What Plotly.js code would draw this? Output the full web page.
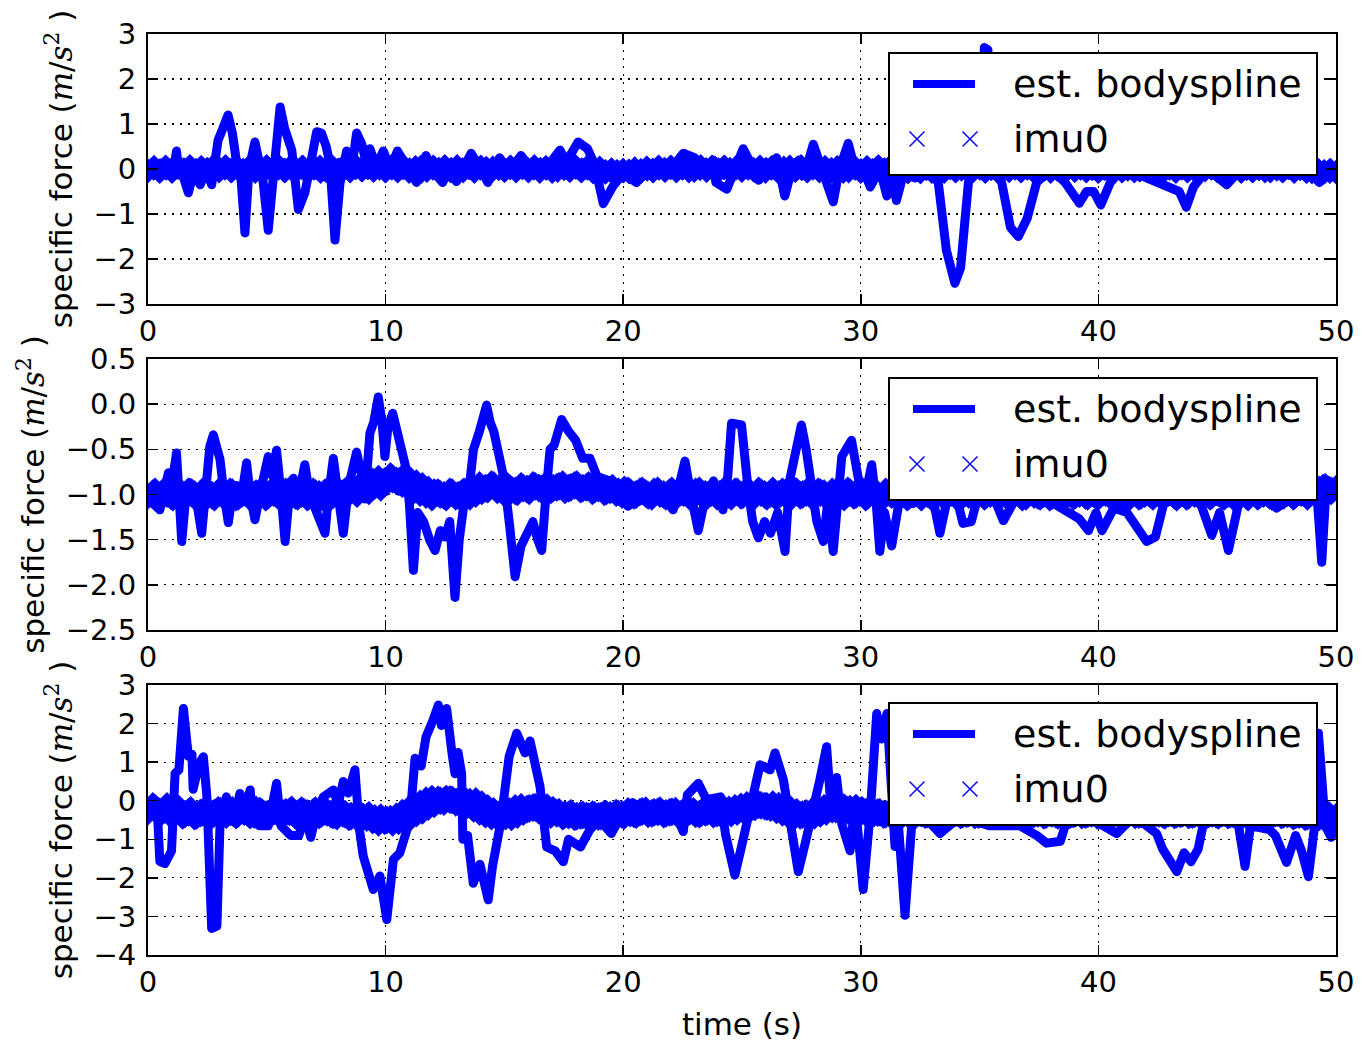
<!DOCTYPE html>
<html>
<head>
<meta charset="utf-8">
<script src="https://cdn.plot.ly/plotly-3.0.1.min.js"></script>
<style>
  html, body { margin: 0; padding: 0; background: #fff; }
  #chart { width: 1363px; height: 1042px; }
  #chart .scatterlayer .js-line { stroke-linejoin: round; stroke-linecap: round; }
</style>
</head>
<body>
<div id="chart"></div>
<script>
// ---------------- DATA ----------------
// est. bodyspline, panel 1 (x component)
const splineT1 = [0,0.3,0.6,0.9,1.1,1.2,1.3,1.5,1.7,1.9,2.2,2.45,2.68,2.8,2.95,3.15,3.37,3.55,3.74,3.9,4.08,4.25,4.5,4.7,4.85,5.06,5.25,5.4,5.56,5.75,6.05,6.33,6.6,6.8,7.1,7.3,7.5,7.66,7.87,8.08,8.36,8.6,8.78,9.0,9.2,9.34,9.6,9.9,10.2,10.5,10.9,11.3,11.7,12.0,12.4,12.7,12.98,13.3,13.6,14.0,14.3,14.8,15.2,15.7,16.2,16.8,17.34,17.6,17.9,18.1,18.5,18.8,19.16,19.57,20.0,20.56,21.0,21.5,22.0,22.53,23.0,23.4,23.8,23.9,24.36,24.7,25.05,25.4,25.7,26.1,26.46,26.8,27.1,27.4,27.7,28.0,28.4,28.84,29.1,29.47,29.8,30.1,30.4,30.8,31.1,31.3,31.5,31.8,32.3,32.8,33.26,33.6,33.96,34.2,34.53,34.8,35.1,35.2,35.35,35.5,35.93,36.3,36.63,37.0,37.4,38.0,38.6,39.2,39.5,39.8,40.1,40.5,41.0,41.6,42.4,43.0,43.4,43.7,44.0,44.6,45.4,46.0,46.8,47.5,48.2,48.8,49.3,49.6,50];
const splineV1 = [0,-0.1,0.05,-0.1,0.05,0.4,-0.05,-0.2,-0.53,-0.1,-0.35,0,-0.35,0.0,0.64,0.9,1.2,0.8,0.1,-0.1,-1.42,0.0,0.6,0.1,-0.3,-1.36,-0.2,0.7,1.38,0.9,0.42,-0.9,-0.53,0.0,0.83,0.8,0.5,0.1,-1.58,-0.32,0.4,0.1,0.8,0.55,0.1,0.45,0.05,0.4,0.0,0.4,0.0,-0.3,0.3,-0.05,-0.3,0.0,-0.28,0.05,0.35,0.0,-0.3,0.25,-0.05,0.3,-0.05,0.05,0.42,0.15,0.4,0.6,0.45,0.1,-0.77,-0.38,-0.1,-0.3,0.0,0.05,0.0,0.35,0.25,0.0,0.2,-0.3,-0.45,0.0,0.45,0.1,-0.25,0.0,0.25,-0.6,0.0,0.2,0.0,0.55,0.0,-0.73,0.0,0.57,-0.1,0.0,-0.4,0.0,-0.6,-0.1,-0.7,-0.1,-0.2,0.0,-0.3,-1.8,-2.54,-2.2,-0.3,0.0,0.3,2.7,2.65,0.1,-0.3,-1.3,-1.5,-1.1,-0.3,0.0,-0.3,-0.76,-0.5,-0.5,-0.8,-0.3,0.0,-0.1,-0.3,-0.45,-0.5,-0.85,-0.4,0.0,-0.35,0.0,-0.1,0.0,-0.1,0.0,-0.3,0.05,-0.1];

// est. bodyspline, panel 2 (y component)
const splineT2 = [0,0.5,0.86,1.0,1.2,1.3,1.42,1.6,1.76,2.0,2.26,2.45,2.6,2.75,3.03,3.2,3.38,3.55,3.73,3.95,4.15,4.3,4.5,4.75,5.06,5.25,5.41,5.6,5.77,5.95,6.12,6.35,6.6,6.8,6.95,7.2,7.45,7.6,7.8,8.0,8.22,8.45,8.78,9.0,9.13,9.34,9.5,9.69,9.85,9.97,10.1,10.3,10.5,10.7,10.85,11.0,11.17,11.35,11.6,11.85,12.08,12.3,12.5,12.7,12.92,13.1,13.3,13.55,13.7,13.95,14.25,14.4,14.55,14.8,15.0,15.2,15.45,15.7,15.9,16.2,16.4,16.57,16.75,16.92,17.1,17.41,17.7,18.0,18.3,18.6,18.9,19.44,19.8,20.2,20.8,21.5,22.1,22.35,22.6,22.85,23.16,23.4,23.8,24.0,24.2,24.4,24.56,24.98,25.1,25.26,25.45,25.69,25.95,26.2,26.5,26.81,27.0,27.25,27.5,27.7,27.9,28.15,28.42,28.6,28.84,29.0,29.2,29.61,29.8,29.95,30.2,30.46,30.65,30.8,31.0,31.3,31.6,32.2,32.6,33.0,33.33,33.6,34.0,34.3,34.65,34.85,35.4,36.0,36.4,37.0,37.8,38.66,39.2,39.58,39.9,40.15,40.65,41.2,41.6,42.03,42.4,42.75,43.5,44.3,44.77,45.1,45.47,45.9,46.7,47.5,48.3,49.2,49.4,49.6,50];
const splineV2 = [-1.05,-1.17,-0.76,-0.9,-0.54,-0.9,-1.52,-1.0,-0.87,-1.0,-1.43,-0.9,-0.47,-0.34,-0.61,-1.0,-1.31,-1.0,-0.9,-1.0,-0.65,-1.0,-1.28,-0.95,-0.58,-0.8,-0.51,-1.0,-1.52,-1.0,-0.82,-1.0,-0.67,-1.0,-1.1,-1.2,-1.43,-1.0,-0.6,-1.0,-1.43,-0.9,-0.53,-0.8,-1.05,-0.32,-0.2,0.08,-0.2,-0.58,-0.25,-0.1,-0.3,-0.5,-0.7,-1.1,-1.84,-1.2,-1.3,-1.5,-1.62,-1.4,-1.47,-1.3,-2.14,-1.5,-1.1,-0.85,-0.5,-0.3,-0.01,-0.2,-0.3,-0.6,-0.85,-1.3,-1.91,-1.57,-1.45,-1.3,-1.5,-1.62,-1.0,-0.5,-0.45,-0.17,-0.3,-0.4,-0.6,-0.6,-0.8,-0.85,-1.0,-1.13,-1.0,-0.95,-1.17,-0.9,-0.63,-1.0,-1.4,-1.1,-0.85,-1.0,-1.17,-0.8,-0.21,-0.23,-0.6,-0.95,-1.3,-1.48,-1.3,-1.43,-1.2,-1.63,-0.85,-0.5,-0.23,-0.5,-0.85,-1.3,-1.52,-1.1,-1.63,-1.0,-0.58,-0.4,-0.7,-0.9,-1.0,-0.67,-1.1,-1.63,-1.2,-1.57,-1.1,-1.1,-0.9,-1.0,-1.43,-1.1,-1.0,-1.32,-1.3,-1.1,-0.9,-1.29,-1.1,-1.0,-1.05,-1.17,-1.27,-1.4,-1.2,-1.4,-1.15,-1.2,-1.35,-1.52,-1.47,-1.1,-1.0,-1.1,-1.45,-1.2,-1.62,-1.1,-1.0,-1.15,-1.0,-1.0,-1.75,-0.85,-0.9];

// est. bodyspline, panel 3 (z component)
const splineT3 = [0,0.4,0.5,0.71,0.99,1.05,1.14,1.3,1.49,1.7,1.85,1.9,2.15,2.33,2.48,2.68,2.9,3.03,3.3,3.6,3.87,4.1,4.3,4.4,4.7,5.06,5.2,5.41,5.6,6.0,6.35,6.6,6.85,7.1,7.38,7.8,8.0,8.22,8.43,8.71,8.9,9.06,9.48,9.76,10.05,10.33,10.6,10.9,11.1,11.24,11.5,11.7,12.0,12.22,12.35,12.57,12.78,12.92,13.05,13.2,13.25,13.45,13.69,13.97,14.32,14.5,14.85,15.06,15.2,15.52,15.87,16.08,16.36,16.5,16.78,17.13,17.48,17.7,18.2,18.6,19.0,19.5,19.9,20.4,21.0,21.6,22.2,22.53,22.7,23.16,23.5,24.1,24.3,24.7,25.05,25.5,25.76,26.18,26.39,26.74,27.0,27.37,27.7,28.07,28.28,28.56,28.77,28.98,29.2,29.55,29.76,30.1,30.4,30.67,30.88,31.1,31.44,31.6,31.86,32.14,32.5,33.33,34.2,35.4,36.7,37.4,37.82,38.4,38.6,39.5,40.77,41.5,42.45,42.7,43.3,43.6,43.9,44.2,44.4,45.2,45.9,46.17,46.4,47.2,47.45,47.92,48.3,48.55,48.84,49.1,49.26,49.55,49.8,50];
const splineV3 = [-0.15,-0.35,-1.58,-1.63,-1.3,0.0,0.71,0.8,2.39,1.15,1.2,0.3,0.95,1.14,0.1,-3.31,-3.25,-0.65,0.1,-0.55,0.19,-0.2,0.28,-0.55,-0.65,-0.65,-0.2,0.45,-0.65,-0.9,-0.9,-0.4,-0.95,-0.3,0.1,0.28,-0.1,0.5,0.2,0.8,-0.75,-1.44,-2.3,-1.95,-3.08,-1.52,-1.35,-0.75,0.1,1.1,0.9,1.65,2.09,2.48,1.95,2.39,1.3,0.7,1.25,0.7,-1.0,-0.9,-2.14,-1.65,-2.57,-1.7,-0.55,0.55,1.15,1.75,1.24,1.55,0.55,0.37,-1.2,-1.3,-1.58,-1.0,-1.2,-0.75,-0.5,-0.85,-0.4,-0.05,-0.3,-0.15,-0.35,-0.8,0.15,0.45,0.03,0.1,-0.85,-1.93,-1.0,0.3,0.93,0.8,1.24,0.55,-0.55,-1.84,-1.0,-0.15,0.55,1.4,-0.4,0.6,-0.6,-1.3,0.0,-2.3,-0.3,2.26,1.6,2.26,-1.19,-0.75,-2.97,-0.65,-0.3,-0.85,-0.4,-0.65,-0.65,-0.9,-1.1,-1.05,-0.65,-0.4,-0.85,-0.4,-0.85,-1.25,-1.84,-1.35,-1.58,-1.25,-0.65,-0.4,-0.65,-1.7,-0.65,-0.75,-0.9,-1.6,-0.9,-1.3,-1.97,-0.65,1.75,-0.65,-0.95,-0.6];

// imu0 samples, one every 0.25 s from 0 to 50 s
const imuStart = 0;
const imuStep = 0.25;
const imuV1 = [
0.03,-0.04,0.02,-0.05,0.04,-0.02,0.05,-0.03,0.01,-0.06,0.03,-0.01,0.05,-0.04,0.02,-0.03,0.04,-0.05,0.01,0.03,
-0.02,0.05,-0.04,0.02,-0.03,0.04,-0.01,0.03,-0.05,0.02,0.04,-0.03,0.01,-0.04,0.05,-0.02,0.03,-0.01,0.04,-0.03,
0.02,-0.04,0.05,-0.02,0.03,-0.05,0.01,0.04,-0.03,0.02,-0.01,0.05,-0.04,0.03,-0.02,0.04,-0.05,0.02,0.01,-0.03,
0.04,-0.02,0.03,-0.04,0.05,-0.01,0.02,-0.05,0.03,0.01,-0.03,0.04,-0.02,0.05,-0.04,0.02,-0.06,-0.02,-0.07,-0.04,
-0.06,-0.03,-0.05,0.0,-0.04,0.02,-0.03,0.04,-0.01,0.03,-0.04,0.02,0.05,-0.03,0.01,-0.02,0.04,-0.05,0.03,-0.01,
0.02,-0.03,0.04,-0.01,0.03,-0.05,0.02,0.04,-0.02,0.01,-0.03,0.05,-0.04,0.02,-0.01,0.03,-0.05,0.01,0.02,-0.04,
0.03,-0.05,0.01,-0.04,0.05,-0.02,0.04,-0.03,0.02,-0.06,0.01,-0.02,0.04,-0.05,0.03,-0.02,0.05,-0.04,0.0,0.02,
-0.03,0.04,-0.05,0.01,-0.02,0.05,-0.03,0.02,-0.04,0.03,0.05,-0.02,0.0,-0.05,0.04,-0.03,0.02,-0.02,0.03,-0.04,
0.01,-0.05,0.04,-0.03,0.02,-0.04,0.0,0.05,-0.02,0.03,-0.02,0.04,-0.05,0.02,-0.03,0.05,-0.04,0.01,0.02,-0.02,
0.03,-0.03,0.04,-0.05,0.04,-0.02,0.01,-0.04,0.02,0.0,-0.04,0.03,-0.03,0.04,-0.05,0.01,-0.04,-0.06,-0.03,-0.07,
-0.05];
const imuV2 = [
-0.97,-1.02,-0.99,-1.03,-0.96,-1.01,-0.98,-1.04,-0.97,-1.0,-1.03,-0.96,-1.01,-0.98,-1.02,-0.97,-1.03,-0.99,-0.96,-1.01,
-0.98,-1.03,-0.97,-1.0,-1.02,-0.96,-1.01,-0.99,-1.03,-0.97,-1.0,-0.98,-1.02,-0.95,-0.99,-0.93,-0.96,-0.9,-0.92,-0.86,
-0.83,-0.86,-0.8,-0.85,-0.88,-0.91,-0.95,-0.98,-1.0,-1.03,-0.98,-1.01,-0.97,-1.02,-0.99,-0.96,-0.94,-0.9,-0.93,-0.89,
-0.95,-0.97,-0.93,-0.96,-0.91,-0.94,-0.9,-0.93,-0.91,-0.95,-0.92,-0.89,-0.93,-0.9,-0.94,-0.92,-0.96,-0.93,-0.97,-0.95,
-0.98,-1.0,-0.96,-1.01,-0.97,-0.99,-1.02,-0.96,-1.0,-0.98,-1.02,-0.97,-0.99,-1.01,-0.96,-1.0,-0.98,-1.02,-0.97,-1.0,
-0.97,-1.01,-0.98,-1.02,-0.96,-1.0,-0.99,-1.03,-0.97,-1.0,-0.96,-1.01,-0.98,-1.02,-0.97,-0.99,-1.03,-0.98,-1.0,-0.96,
-1.01,-0.98,-1.03,-0.97,-1.0,-1.02,-0.98,-1.01,-0.97,-1.03,-0.99,-1.0,-0.97,-1.02,-0.98,-1.01,-0.96,-1.0,-1.03,-0.98,
-1.0,-0.97,-1.02,-0.99,-1.01,-0.97,-1.03,-0.98,-1.0,-1.02,-0.97,-1.01,-0.99,-1.03,-0.98,-1.0,-0.96,-1.02,-0.99,-1.01,
-0.98,-1.02,-0.97,-1.0,-1.03,-0.98,-1.01,-0.97,-1.02,-0.99,-1.0,-0.97,-1.03,-0.98,-1.01,-0.99,-1.02,-0.97,-1.0,-0.98,
-1.02,-0.97,-1.01,-0.99,-1.03,-0.98,-1.0,-0.96,-1.02,-0.99,-1.01,-0.97,-1.0,-0.98,-1.02,-0.97,-0.95,-0.92,-0.96,-0.93,
-0.95];
const imuV3 = [
-0.2,-0.3,-0.15,-0.28,-0.22,-0.35,-0.25,-0.38,-0.3,-0.4,-0.32,-0.27,-0.36,-0.25,-0.33,-0.28,-0.37,-0.24,-0.31,-0.35,
-0.27,-0.36,-0.3,-0.24,-0.34,-0.29,-0.38,-0.26,-0.33,-0.3,-0.37,-0.28,-0.35,-0.4,-0.33,-0.42,-0.38,-0.46,-0.44,-0.5,
-0.56,-0.52,-0.48,-0.42,-0.32,-0.25,-0.15,-0.08,0.0,0.04,0.02,-0.02,0.03,-0.04,-0.02,-0.1,-0.2,-0.28,-0.35,-0.4,
-0.42,-0.36,-0.28,-0.2,-0.17,-0.22,-0.18,-0.25,-0.3,-0.36,-0.33,-0.4,-0.37,-0.42,-0.38,-0.4,-0.36,-0.41,-0.35,-0.38,
-0.32,-0.36,-0.28,-0.34,-0.3,-0.26,-0.33,-0.29,-0.35,-0.3,-0.27,-0.34,-0.31,-0.28,-0.35,-0.3,-0.26,-0.32,-0.28,-0.24,
-0.2,-0.16,-0.12,-0.15,-0.1,-0.14,-0.18,-0.24,-0.3,-0.36,-0.4,-0.38,-0.33,-0.28,-0.22,-0.2,-0.18,-0.22,-0.19,-0.25,
-0.28,-0.32,-0.3,-0.35,-0.31,-0.36,-0.33,-0.3,-0.37,-0.32,-0.35,-0.3,-0.36,-0.33,-0.38,-0.31,-0.35,-0.32,-0.37,-0.34,
-0.31,-0.36,-0.33,-0.38,-0.3,-0.35,-0.32,-0.37,-0.34,-0.3,-0.36,-0.33,-0.38,-0.31,-0.35,-0.32,-0.37,-0.34,-0.3,-0.36,
-0.33,-0.38,-0.31,-0.35,-0.32,-0.37,-0.34,-0.3,-0.36,-0.33,-0.38,-0.31,-0.35,-0.32,-0.37,-0.34,-0.3,-0.36,-0.33,-0.38,
-0.31,-0.35,-0.32,-0.37,-0.34,-0.3,-0.36,-0.33,-0.38,-0.31,-0.35,-0.32,-0.37,-0.34,-0.4,-0.36,-0.42,-0.38,-0.45,-0.4,
-0.38];

const xTicks = [0, 10, 20, 30, 40, 50];
const seriesNames = ["est. bodyspline", "imu0"];
const yRanges = [[-3, 3], [-2.5, 0.5], [-4, 3]];
const yDticks = [1, 0.5, 1];
const yTitle = "specific force (<span style=\"font-family:'DejaVu Serif'\"><i>m</i>/<i>s</i><sup>2</sup></span> )";
const xTitle = "time (s)";

// ---------------- BUILD ----------------
const BLUE = '#0000ff';
const FONT = 'DejaVu Sans, Verdana, sans-serif';
const imuT = imuV1.map((_, i) => imuStart + i * imuStep);

const splines = [[splineT1, splineV1], [splineT2, splineV2], [splineT3, splineV3]];
const imus = [imuV1, imuV2, imuV3];
const imuSizes = [22, 25, 25];

const traces = [];
for (let k = 0; k < 3; k++) {
  const xa = k === 0 ? 'x' : 'x' + (k + 1);
  const ya = k === 0 ? 'y' : 'y' + (k + 1);
  traces.push({
    type: 'scatter', mode: 'lines', name: seriesNames[0],
    x: splines[k][0], y: splines[k][1], xaxis: xa, yaxis: ya,
    line: { color: BLUE, width: 9 }, showlegend: false
  });
  traces.push({
    type: 'scatter', mode: 'markers', name: seriesNames[1],
    x: imuT, y: imus[k], xaxis: xa, yaxis: ya,
    marker: { symbol: 'x', size: imuSizes[k], color: BLUE, line: { color: BLUE, width: 0.5 } },
    showlegend: false
  });
}

// figure geometry (px)
const W = 1363, H = 1042;
const M = { l: 148, r: 27, t: 34, b: 87 };
const plotW = W - M.l - M.r, plotH = H - M.t - M.b;
const px2x = px => (px - M.l) / plotW;
const px2y = py => (H - M.b - py) / plotH;

const panelTop = [34, 359, 685];
const panelBot = [304, 630, 955];

function xAxis(k) {
  const a = {
    domain: [0, 1], anchor: k === 0 ? 'y' : 'y' + (k + 1),
    range: [0, 50], tickmode: 'array', tickvals: xTicks, ticktext: xTicks.map(String),
    ticks: 'inside', ticklen: 10, tickwidth: 1.5, tickcolor: '#000',
    showline: true, linewidth: 2, linecolor: '#000', mirror: 'ticks',
    showgrid: true, gridcolor: '#000', gridwidth: 1.2, griddash: '2px,6px',
    zeroline: false, tickfont: { family: FONT, size: 29, color: '#000' },
    ticklabelstandoff: 0
  };
  if (k === 2) a.title = { text: xTitle, font: { family: FONT, size: 31, color: '#000' }, standoff: 16 };
  return a;
}
function yAxis(k) {
  return {
    domain: [px2y(panelBot[k]), px2y(panelTop[k])],
    anchor: k === 0 ? 'x' : 'x' + (k + 1),
    range: yRanges[k], dtick: yDticks[k], tick0: 0,
    tickformat: k === 1 ? '.1f' : 'd',
    ticks: 'inside', ticklen: 10, tickwidth: 1.5, tickcolor: '#000',
    showline: true, linewidth: 2, linecolor: '#000', mirror: 'ticks',
    showgrid: true, gridcolor: '#000', gridwidth: 1.2, griddash: '2px,6px',
    zeroline: false, tickfont: { family: FONT, size: 29, color: '#000' },
    ticklabelstandoff: 4,
    title: { text: yTitle, font: { family: FONT, size: 31, color: '#000' }, standoff: 12 }
  };
}

// legends (drawn boxes, one per panel)
const shapes = [], annotations = [];
const legTop = [53, 378, 703];
for (let k = 0; k < 3; k++) {
  const top = legTop[k], bot = top + 122;
  const row1 = top + 31, row2 = top + 86;
  shapes.push({ type: 'rect', xref: 'paper', yref: 'paper', layer: 'above',
    x0: px2x(889), x1: px2x(1317), y0: px2y(bot), y1: px2y(top),
    fillcolor: '#fff', line: { color: '#000', width: 2 } });
  shapes.push({ type: 'line', xref: 'paper', yref: 'paper', layer: 'above',
    x0: px2x(913), x1: px2x(975), y0: px2y(row1), y1: px2y(row1),
    line: { color: BLUE, width: 8 } });
  [917, 970].forEach(cx => {
    const h = 7.5;
    shapes.push({ type: 'line', xref: 'paper', yref: 'paper', layer: 'above',
      x0: px2x(cx - h), x1: px2x(cx + h), y0: px2y(row2 - h), y1: px2y(row2 + h),
      line: { color: BLUE, width: 1.5 } });
    shapes.push({ type: 'line', xref: 'paper', yref: 'paper', layer: 'above',
      x0: px2x(cx - h), x1: px2x(cx + h), y0: px2y(row2 + h), y1: px2y(row2 - h),
      line: { color: BLUE, width: 1.5 } });
  });
  annotations.push({ xref: 'paper', yref: 'paper', x: px2x(1011), y: px2y(row1),
    xanchor: 'left', yanchor: 'middle', text: seriesNames[0], showarrow: false,
    font: { family: FONT, size: 38, color: '#000' } });
  annotations.push({ xref: 'paper', yref: 'paper', x: px2x(1011), y: px2y(row2),
    xanchor: 'left', yanchor: 'middle', text: seriesNames[1], showarrow: false,
    font: { family: FONT, size: 38, color: '#000' } });
}

const layout = {
  width: W, height: H, margin: M,
  paper_bgcolor: '#fff', plot_bgcolor: '#fff',
  font: { family: FONT, color: '#000' },
  showlegend: false,
  xaxis: xAxis(0), xaxis2: xAxis(1), xaxis3: xAxis(2),
  yaxis: yAxis(0), yaxis2: yAxis(1), yaxis3: yAxis(2),
  shapes: shapes, annotations: annotations
};

Plotly.newPlot('chart', traces, layout, { displayModeBar: false, staticPlot: true });
</script>
</body>
</html>
